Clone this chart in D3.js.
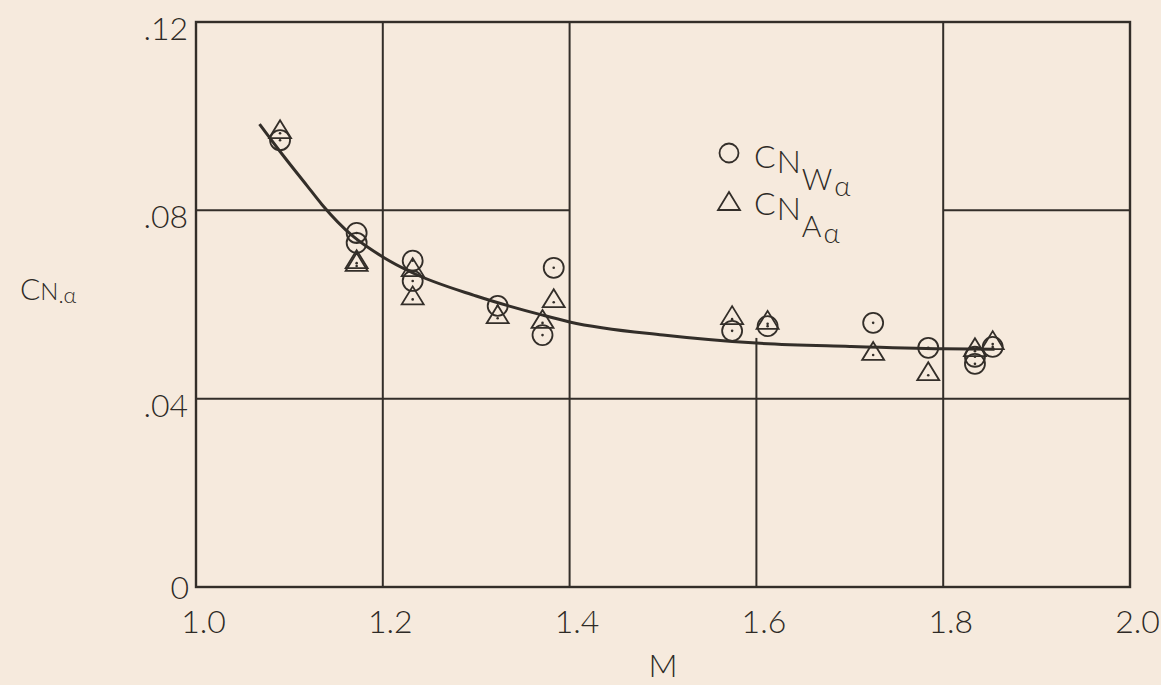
<!DOCTYPE html>
<html><head><meta charset="utf-8">
<script src="https://cdn.jsdelivr.net/npm/d3@7"></script>
<style>
html,body{margin:0;padding:0;background:#f6eadd;}
svg{display:block;}
text{font-family:"Lato","DejaVu Sans",sans-serif;font-weight:300;fill:#2e2a26;}
</style></head>
<body>
<svg id="chart" width="1161" height="685"></svg>
<script>
// ---- data ----
const xTicks = [1.0, 1.2, 1.4, 1.6, 1.8, 2.0];
const xTickLabels = ["1.0", "1.2", "1.4", "1.6", "1.8", "2.0"];
const yTicks = [0, 0.04, 0.08, 0.12];
const yTickLabels = ["0", ".04", ".08", ".12"];

// C_N_W_alpha (circles)
const machW = [1.09, 1.172, 1.172, 1.232, 1.232, 1.323, 1.371, 1.383, 1.574, 1.612, 1.725, 1.784, 1.834, 1.834, 1.853];
const cnW   = [0.0949, 0.0752, 0.0731, 0.0693, 0.0650, 0.0597, 0.0535, 0.0678, 0.0544, 0.0554, 0.0561, 0.0508, 0.0489, 0.0474, 0.0510];
// C_N_A_alpha (triangles)
const machA = [1.09, 1.172, 1.172, 1.232, 1.232, 1.323, 1.371, 1.383, 1.574, 1.612, 1.725, 1.784, 1.834, 1.853];
const cnA   = [0.0966, 0.0690, 0.0684, 0.0673, 0.0613, 0.0573, 0.0563, 0.0607, 0.0571, 0.0561, 0.0495, 0.0452, 0.0503, 0.0518];
// faired curve
const curveM  = [1.068, 1.090, 1.119, 1.135, 1.168, 1.200, 1.230, 1.300, 1.370, 1.400, 1.500, 1.600, 1.700, 1.800, 1.855];
const curveCN = [0.0983, 0.0925, 0.0852, 0.0812, 0.0745, 0.0701, 0.0669, 0.0618, 0.0578, 0.0563, 0.0535, 0.0518, 0.0511, 0.0506, 0.0505];

// grid segments (value ranges as drawn on the original sheet)
const vGrid = [ {m:1.2, from:0, to:0.12}, {m:1.4, from:0, to:0.12}, {m:1.6, from:0, to:0.0529}, {m:1.8, from:0, to:0.12} ];
const hGrid = [ {v:0.04, from:1.0, to:2.0}, {v:0.08, from:1.0, to:1.4}, {v:0.08, from:1.8, to:2.0} ];

// ---- drawing ----
const ink = "#332e29";
const svg = d3.select("#chart");
const x = d3.scaleLinear().domain([1, 2]).range([196, 1130]);
const y = d3.scaleLinear().domain([0, 0.12]).range([587, 22]);

// grid
svg.append("g").selectAll("line").data(vGrid).join("line")
  .attr("x1", d => x(d.m)).attr("x2", d => x(d.m))
  .attr("y1", d => y(d.from)).attr("y2", d => y(d.to))
  .attr("stroke", ink).attr("stroke-width", 2);
svg.append("g").selectAll("line").data(hGrid).join("line")
  .attr("x1", d => x(d.from)).attr("x2", d => x(d.to))
  .attr("y1", d => y(d.v)).attr("y2", d => y(d.v))
  .attr("stroke", ink).attr("stroke-width", 2);

// frame
svg.append("rect").attr("x", x(1)).attr("y", y(0.12))
  .attr("width", x(2) - x(1)).attr("height", y(0) - y(0.12))
  .attr("fill", "none").attr("stroke", ink).attr("stroke-width", 2.4);

// axes (labels only)
const xAxis = d3.axisBottom(x).tickValues(xTicks).tickFormat((d, i) => xTickLabels[i]).tickSize(0).tickPadding(0);
const gx = svg.append("g").attr("transform", `translate(0,${y(0)})`).call(xAxis);
gx.select(".domain").remove();
gx.selectAll("text").attr("font-size", 32).attr("font-family", "Lato, DejaVu Sans, sans-serif")
  .attr("font-weight", 300).attr("fill", ink).attr("dx", 7).attr("dy", 0).attr("y", 46);

const yAxis = d3.axisLeft(y).tickValues(yTicks).tickFormat((d, i) => yTickLabels[i]).tickSize(0).tickPadding(0);
const gy = svg.append("g").attr("transform", `translate(${x(1)},0)`).call(yAxis);
gy.select(".domain").remove();
gy.selectAll("text").attr("font-size", 32).attr("font-family", "Lato, DejaVu Sans, sans-serif")
  .attr("font-weight", 300).attr("fill", ink).attr("x", -8).attr("dy", "0.55em");
gy.selectAll(".tick").filter(d => d === 0).select("text").attr("x", -7).attr("dy", "0.36em");

// faired curve
const line = d3.line().x(d => x(d[0])).y(d => y(d[1])).curve(d3.curveMonotoneX);
svg.append("path").datum(curveM.map((m, i) => [m, curveCN[i]]))
  .attr("d", line).attr("fill", "none").attr("stroke", ink).attr("stroke-width", 3);

// circles
const wPts = machW.map((m, i) => [m, cnW[i]]);
const gW = svg.append("g");
gW.selectAll("circle.o").data(wPts).join("circle").attr("class", "o")
  .attr("cx", d => x(d[0])).attr("cy", d => y(d[1])).attr("r", 10)
  .attr("fill", "none").attr("stroke", ink).attr("stroke-width", 1.8);
gW.selectAll("circle.dot").data(wPts).join("circle").attr("class", "dot")
  .attr("cx", d => x(d[0])).attr("cy", d => y(d[1])).attr("r", 1.3).attr("fill", ink);

// triangles
const tri = "M0,-12L11,6L-11,6Z";
const aPts = machA.map((m, i) => [m, cnA[i]]);
const gA = svg.append("g");
gA.selectAll("path.t").data(aPts).join("path").attr("class", "t")
  .attr("d", tri).attr("transform", d => `translate(${x(d[0])},${y(d[1])})`)
  .attr("fill", "none").attr("stroke", ink).attr("stroke-width", 1.8);
gA.selectAll("circle.dot").data(aPts).join("circle").attr("class", "dot")
  .attr("cx", d => x(d[0])).attr("cy", d => y(d[1]) + 1).attr("r", 1.3).attr("fill", ink);

// legend
const lg = svg.append("g");
lg.append("circle").attr("cx", 729).attr("cy", 153).attr("r", 9.5)
  .attr("fill", "none").attr("stroke", ink).attr("stroke-width", 1.8);
lg.append("path").attr("d", tri).attr("transform", "translate(729,204)")
  .attr("fill", "none").attr("stroke", ink).attr("stroke-width", 1.8);
function legendText(x0, base, sub) {
  const t = lg.append("text").attr("x", x0).attr("y", base).attr("font-size", 32).attr("fill", ink);
  t.append("tspan").text("C");
  t.append("tspan").attr("dy", 5).attr("dx", 1).text("N");
  t.append("tspan").attr("dy", 17).attr("dx", 1).attr("font-size", 30).text(sub);
  t.append("tspan").attr("dy", 6).attr("dx", 2).attr("font-size", 28).text("α");
}
legendText(754, 168, "W");
legendText(754, 215, "A");

// axis titles
const yl = svg.append("text").attr("x", 20).attr("y", 300).attr("font-size", 30).attr("fill", ink);
yl.append("tspan").text("C");
yl.append("tspan").attr("font-size", 24).attr("dy", 0).text("N");
yl.append("tspan").attr("font-size", 22).attr("dy", 3).text(".α");

svg.append("text").attr("x", x(1.5)).attr("y", 677).attr("text-anchor", "middle")
  .attr("font-size", 32).attr("fill", ink).text("M");
</script>
</body></html>
